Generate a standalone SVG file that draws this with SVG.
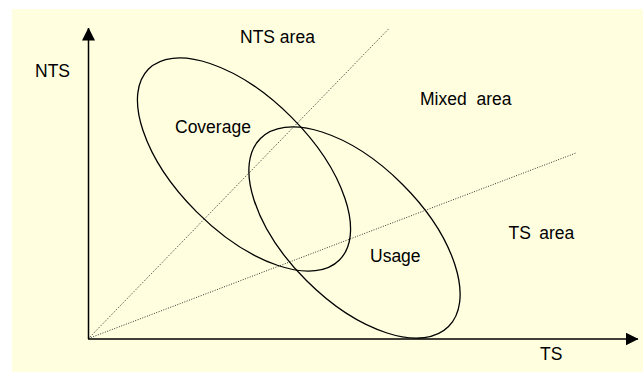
<svg xmlns="http://www.w3.org/2000/svg" width="643" height="372" viewBox="0 0 643 372">
  <style>
    .lbl { font-family: "Liberation Sans", Arial, sans-serif; font-size: 17.5px; fill: #000; }
    .ell { fill: none; stroke: #000; stroke-width: 1.3; }
    .axis { stroke: #000; stroke-width: 1.5; fill: none; }
    .dot { stroke: #333; stroke-width: 1; stroke-dasharray: 1 1.5; fill: none; }
  </style>
  <defs>
    <marker id="arrow" markerUnits="userSpaceOnUse" markerWidth="13" markerHeight="13" refX="12.5" refY="6.5" orient="auto">
      <path d="M0,0 L13,6.5 L0,13 Z" fill="#000"/>
    </marker>
  </defs>
  <rect x="12" y="9" width="631" height="363" fill="#FFFFE0"/>

  <g id="connectors">
    <line class="dot" x1="88.5" y1="338.5" x2="389.5" y2="28"/>
    <line class="dot" x1="88.5" y1="338.5" x2="576" y2="153"/>
    <line class="axis" x1="88.5" y1="339" x2="88.5" y2="28" marker-end="url(#arrow)"/>
    <line class="axis" x1="88" y1="339" x2="638" y2="339" stroke="#333" marker-end="url(#arrow)"/>
  </g>

  <g id="coverage">
    <ellipse class="ell" cx="244" cy="164.5" rx="135" ry="67" transform="rotate(45 244 164.5)"/>
    <text class="lbl" x="175" y="132.5">Coverage</text>
  </g>
  <g id="usage">
    <ellipse class="ell" cx="354.5" cy="232.5" rx="133" ry="68" transform="rotate(45 354.5 232.5)"/>
    <text class="lbl" x="370" y="261.5">Usage</text>
  </g>

  <g id="axis-nts"><text class="lbl" x="35" y="77">NTS</text></g>
  <g id="axis-ts"><text class="lbl" x="540" y="360">TS</text></g>
  <g id="nts-area"><text class="lbl" x="240" y="43">NTS area</text></g>
  <g id="mixed-area"><text class="lbl" x="420" y="105" word-spacing="5">Mixed area</text></g>
  <g id="ts-area"><text class="lbl" x="508.5" y="239" word-spacing="3.5">TS area</text></g>
</svg>
